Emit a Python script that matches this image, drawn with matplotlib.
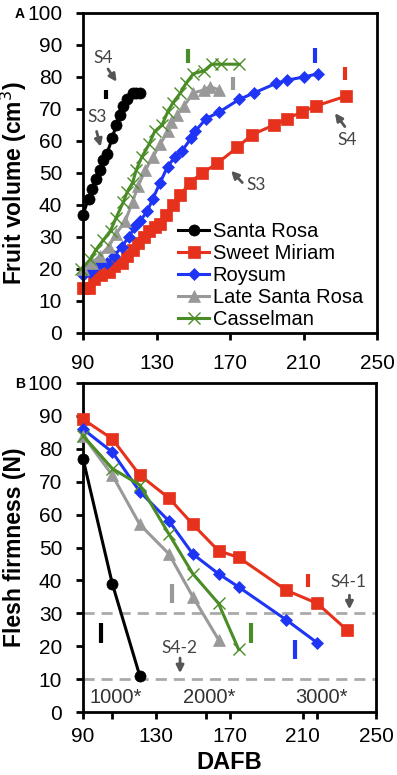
#!/usr/bin/env python3
""" fruit volume and flesh firmness of plum cultivars """

import matplotlib
matplotlib.use("Agg")
import matplotlib.pyplot as plt

plt.rcParams['font.family'] = ['Liberation Sans', 'DejaVu Sans']

names = ['Santa Rosa', 'Sweet Miriam', 'Roysum', 'Late Santa Rosa', 'Casselman']
colors = ['black', '#e6321c', '#1f35f5', '#999999', '#4a8c25']
markers = ['o', 's', 'D', '^', 'x']
msizes = [8, 8.5, 6, 8, 9]

# panel A: fruit volume (cm3) vs DAFB
vol_x = [
    [90, 93, 95, 97, 99, 101, 103, 106, 108, 110, 112, 114, 117, 119, 121],
    [90, 93, 96, 100, 104, 107, 111, 114, 117, 120, 123, 126, 129, 132, 135,
     139, 143, 148, 155, 163, 174, 182, 194, 201, 209, 217, 233],
    [90, 94, 97, 100, 103, 107, 111, 115, 118, 121, 125, 128, 132, 136, 140,
     144, 149, 151, 157, 164, 175, 183, 195, 201, 210, 218],
    [90, 95, 99, 104, 108, 113, 117, 120, 124, 128, 132, 136, 138, 141, 145,
     150, 156, 159, 164],
    [89, 94, 97, 101, 105, 108, 112, 114, 117, 119, 122, 126, 129, 133, 136,
     139, 143, 146, 150, 156, 160, 165, 175],
]
vol_y = [
    [37, 42, 45, 48, 51, 54, 56, 61, 65, 68, 71, 73, 75, 75, 75],
    [14, 14, 17, 18, 19, 21, 22, 24, 26, 28, 30, 32, 33, 34, 37,
     40, 43, 47, 50, 53, 58, 62, 65, 67, 69, 71, 74],
    [18, 19, 21, 22, 22, 24, 27, 30, 33, 35, 38, 42, 47, 52, 55,
     57, 61, 63, 67, 69, 73, 75, 78, 79, 80, 81],
    [20, 22, 24, 27, 31, 35, 41, 46, 51, 55, 59, 63, 66, 68, 71,
     75, 76, 77, 76],
    [20, 23, 26, 29, 32, 36, 41, 44, 47, 51, 55, 59, 63, 65, 69,
     72, 75, 78, 81, 82, 84, 84, 84],
]
# ripening marks in panel A: x, y low, y high
vol_mark_x = [102.5, 232.5, 216.3, 171.6, 147.3]
vol_mark_lo = [73, 79, 84.5, 76, 84.3]
vol_mark_hi = [76, 83, 89, 80, 88.7]

# panel B: flesh firmness (N) vs DAFB
firm_x = [
    [90, 106, 121],
    [90, 106, 121, 137, 150, 164, 175, 201, 218, 234],
    [90, 106, 121, 137, 150, 164, 175, 201, 218],
    [90, 106, 121, 137, 150, 164],
    [90, 106, 121, 137, 150, 164, 175],
]
firm_y = [
    [77, 39, 11],
    [89, 83, 72, 65, 57, 49, 47, 37, 33, 25],
    [86, 79, 67, 58, 48, 42, 38, 28, 21],
    [84, 72, 57, 48, 35, 22],
    [84, 74, 69, 54, 42, 33, 19],
]
firm_mark_x = [99.6, 213, 206, 138.8, 182]
firm_mark_lo = [21, 38, 16, 33, 21]
firm_mark_hi = [27, 42, 22, 39, 27]

# growing degree hours marks
gdh_x = [106, 157, 218]
gdh_labels = ['1000*', '2000*', '3000*']
thresholds = [30, 10]

W, H = 397, 775
fig = plt.figure(figsize=(W / 100, H / 100), dpi=100)
ax1 = fig.add_axes([83 / W, 1 - 333 / H, 294 / W, 320 / H])
ax2 = fig.add_axes([83 / W, 1 - 712 / H, 293 / W, 329 / H])

arrow_kw = dict(arrowstyle='-|>', color='#555555', lw=2, mutation_scale=11,
                shrinkA=0, shrinkB=0)
note_kw = dict(color='#444444', fontsize=12.5, ha='center', va='center',
               family=['Lato', 'DejaVu Sans'])

for i in range(5):
    ax1.plot(vol_x[i], vol_y[i], color=colors[i], marker=markers[i],
             ms=msizes[i], lw=2.2, mew=1 if markers[i] == 'x' else 0.5,
             mec=colors[i], label=names[i], clip_on=False)
    ax1.vlines(vol_mark_x[i], vol_mark_lo[i], vol_mark_hi[i],
               color=colors[i], lw=3)
    ax2.plot(firm_x[i], firm_y[i], color=colors[i], marker=markers[i],
             ms=msizes[i], lw=2.2, mew=1 if markers[i] == 'x' else 0.5,
             mec=colors[i], clip_on=False, zorder=3)
    ax2.vlines(firm_mark_x[i], firm_mark_lo[i], firm_mark_hi[i],
               color=colors[i], lw=3)

for t in thresholds:
    ax2.axhline(t, color='#aaaaaa', lw=2, ls=(0, (4, 2.5)), zorder=1)

# stage arrows, panel A
ax1.text(100.8, 86, 'S4', **note_kw)
ax1.annotate('', xy=(108.3, 78.5), xytext=(103.6, 82.5), arrowprops=arrow_kw)
ax1.text(97.8, 67.5, 'S3', **note_kw)
ax1.annotate('', xy=(99.6, 58.2), xytext=(97.4, 63), arrowprops=arrow_kw)
ax1.text(184.5, 46.2, 'S3', **note_kw)
ax1.annotate('', xy=(170.6, 50.7), xytext=(176.7, 47), arrowprops=arrow_kw)
ax1.text(233.5, 60.3, 'S4', **note_kw)
ax1.annotate('', xy=(227.1, 68.7), xytext=(232.5, 64.5), arrowprops=arrow_kw)

# stage arrows, panel B
ax2.text(234.8, 39.6, 'S4-1', **note_kw)
ax2.annotate('', xy=(235.5, 31.2), xytext=(235.5, 35.5), arrowprops=arrow_kw)
ax2.text(142.7, 19.6, 'S4-2', **note_kw)
ax2.annotate('', xy=(143, 11.8), xytext=(143, 16.4), arrowprops=arrow_kw)
for gx, gl in zip(gdh_x, gdh_labels):
    ax2.text(gx + 2, 4.5, gl, color='#333333', fontsize=14.5,
             ha='center', va='center')

for ax in (ax1, ax2):
    ax.set_xlim(90, 250)
    ax.set_ylim(0, 100)
    ax.set_yticks(range(0, 101, 10))
    for s in ax.spines.values():
        s.set_linewidth(2)
    ax.tick_params(direction='out', length=5, width=2, labelsize=15)
    ax.tick_params(axis='y', pad=10)
ax1.tick_params(axis='x', pad=10)
ax2.tick_params(axis='x', pad=6)

ax1.set_xticks([90, 130, 170, 210, 250])
ax2.set_xticks([90, 130, 170, 210, 250] + gdh_x)
ax2.set_xticklabels(['90', '130', '170', '210', '250', '', '', ''])

ax1.set_ylabel('Fruit volume (cm$^3$)', fontsize=16.5, fontweight='bold',
               va='center')
ax1.yaxis.set_label_coords(-0.235, 0.47)
ax2.set_ylabel('Flesh firmness (N)', fontsize=16.5, fontweight='bold',
               va='center')
ax2.yaxis.set_label_coords(-0.235, 0.5)
ax2.set_xlabel('DAFB', fontsize=17, fontweight='bold', va='center')
ax2.xaxis.set_label_coords(0.5, -0.155)

ax1.legend(loc='lower right', bbox_to_anchor=(1.0, -0.032), frameon=False,
           fontsize=14.5, handlelength=1.5, handletextpad=0.2,
           labelspacing=0.15, borderaxespad=0.3)

fig.text(20 / W, 1 - 14 / H, 'A', fontsize=10, fontweight='bold',
         ha='center', va='center')
fig.text(20 / W, 1 - 384 / H, 'B', fontsize=10, fontweight='bold',
         ha='center', va='center')

plt.savefig("out.png", dpi=100)
